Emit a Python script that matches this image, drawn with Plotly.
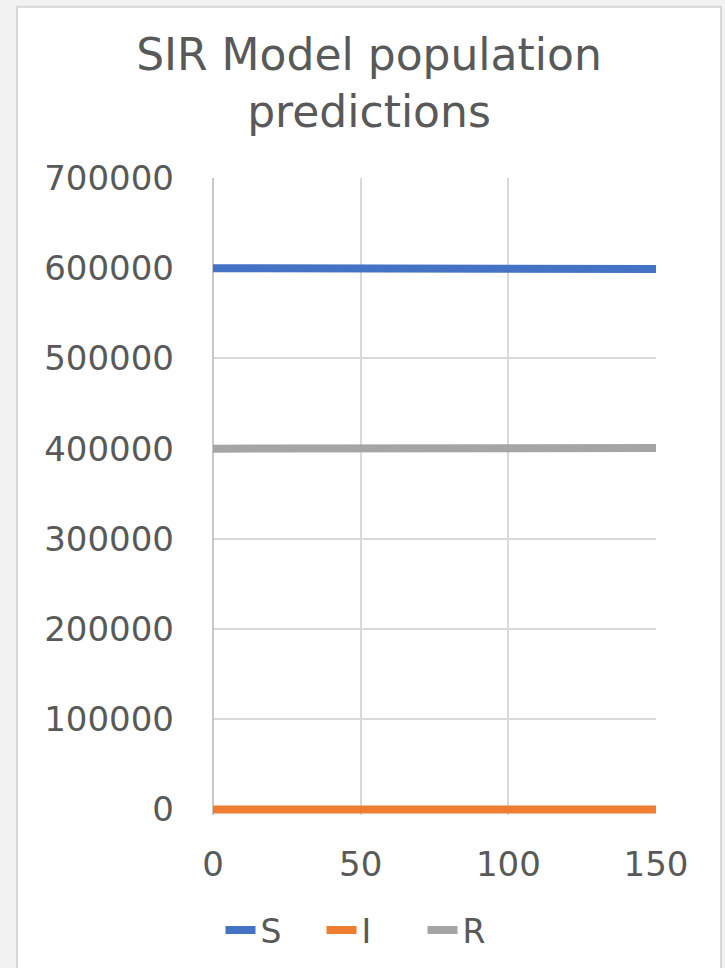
import plotly.graph_objects as go

days = [0, 10, 20, 30, 40, 50, 60, 70, 80, 90, 100, 110, 120, 130, 140, 150]
S = [600000, 599950, 599890, 599820, 599760, 599700, 599640, 599580, 599520,
     599460, 599400, 599340, 599280, 599220, 599160, 599100]
I = [100, 105, 110, 112, 115, 116, 118, 118, 119, 119, 118, 118, 117, 116, 115, 114]
R = [400000, 400045, 400100, 400168, 400225, 400284, 400342, 400402, 400461,
     400521, 400582, 400642, 400703, 400764, 400825, 400886]
series_names = ["S", "I", "R"]
colors = ["#4472C4", "#ED7D31", "#A5A5A5"]
title_text = "SIR Model population<br>predictions"

FONT = "DejaVu Sans"
TXT = "#595959"
GRID = "#D9D9D9"

fig = go.Figure()
for name, vals, col in zip(series_names, [S, I, R], colors):
    fig.add_trace(go.Scatter(x=days, y=vals, mode="lines", name=name,
                             line=dict(color=col, width=8)))

W, H = 725, 968
pl, pr = 213, 656
p_top, p_zero = 177.5, 810
ymin = -6000
ymax = 700000
ppu = (p_zero - p_top) / ymax
p_bot = p_zero - ymin * ppu

def px_x(px):
    return (px - pl) / (pr - pl)

def px_y(py):
    return (p_bot - py) / (p_bot - p_top)

fig.add_shape(type="rect", xref="paper", yref="paper",
              x0=px_x(17), x1=px_x(721), y0=px_y(1000), y1=px_y(6),
              fillcolor="white", line=dict(color="#D6D6D6", width=2), layer="below")

fig.update_layout(
    width=W, height=H,
    margin=dict(l=pl, r=W - pr, t=p_top, b=H - p_bot, pad=0),
    paper_bgcolor="#F2F2F2",
    plot_bgcolor="white",
    font=dict(family=FONT, color=TXT),
    title=dict(text=title_text, xref="container", yref="container",
               x=369 / W, xanchor="center", y=1 - 70 / H, yanchor="top",
               font=dict(size=44, color=TXT, family=FONT)),
    showlegend=True,
    legend=dict(orientation="h", xref="container", yref="container",
                x=372 / W, xanchor="center", y=1 - 930 / H, yanchor="middle",
                font=dict(size=33, color=TXT, family=FONT),
                bgcolor="rgba(0,0,0,0)", entrywidth=56, entrywidthmode="pixels",
                tracegroupgap=0),
)
fig.update_xaxes(range=[0, 150], dtick=50, tick0=0, showgrid=True, gridcolor=GRID,
                 gridwidth=2, zeroline=True, zerolinecolor="#C8C8C8", zerolinewidth=2,
                 showline=False, ticks="", ticklabelstandoff=26,
                 tickfont=dict(size=34, color=TXT, family=FONT))
fig.update_yaxes(range=[ymin, ymax], dtick=100000, tick0=0, tickformat="d",
                 showgrid=True, gridcolor=GRID, gridwidth=2,
                 zeroline=True, zerolinecolor=GRID, zerolinewidth=2,
                 showline=False, ticks="", ticklabelstandoff=38,
                 tickfont=dict(size=34, color=TXT, family=FONT))

fig.write_html("out.html")
